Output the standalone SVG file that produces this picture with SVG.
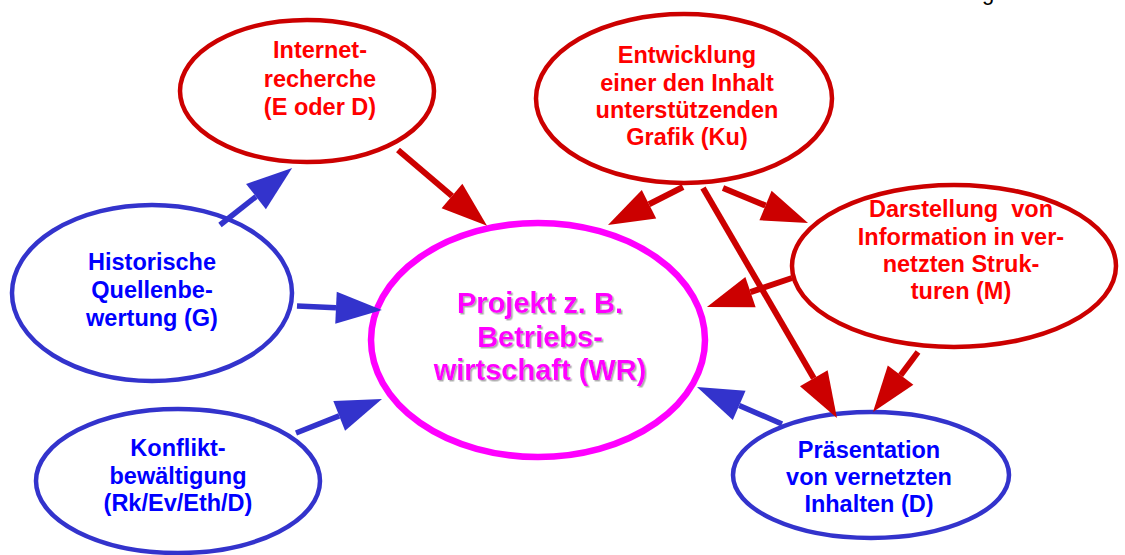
<svg xmlns="http://www.w3.org/2000/svg" width="1125" height="555" viewBox="0 0 1125 555">
<style>
.red{fill:#fff;stroke:#CC0000;stroke-width:4.5}
.blue{fill:#fff;stroke:#3333CC;stroke-width:4.5}
.mag{fill:#fff;stroke:#FF00FF;stroke-width:6.5}
text{font-family:"Liberation Sans",Arial,sans-serif;font-weight:bold;text-anchor:middle}
.tr{fill:#FF0000;font-size:23.5px}
.tb{fill:#0000FF;font-size:23.5px}
.tm{fill:#FF00FF;font-size:29px;filter:url(#sh)}
.cr{stroke:#CC0000;stroke-width:6;fill:none;marker-end:url(#ar)}
.cb{stroke:#3333CC;stroke-width:5.5;fill:none;marker-end:url(#ab)}
</style>
<defs>
<marker id="ar" markerUnits="userSpaceOnUse" markerWidth="50" markerHeight="34" refX="0" refY="16" orient="auto" overflow="visible"><path d="M0,0 L46,16 L0,32 z" fill="#CC0000"/></marker>
<marker id="ab" markerUnits="userSpaceOnUse" markerWidth="50" markerHeight="34" refX="0" refY="16" orient="auto" overflow="visible"><path d="M0,0 L46,16 L0,32 z" fill="#3333CC"/></marker>
<filter id="sh" x="-10%" y="-30%" width="120%" height="160%"><feDropShadow dx="1.5" dy="1.5" stdDeviation="0.6" flood-color="#999999" flood-opacity="0.8"/></filter>
</defs>
<rect width="1125" height="555" fill="#fff"/>
<text x="988" y="0" style="fill:#000;font-size:22px;font-weight:normal">g</text>
<g id="internet">
<ellipse class="red" cx="307" cy="91" rx="127" ry="71"/>
<text class="tr" x="320" y="58">Internet-</text>
<text class="tr" x="320" y="86.5">recherche</text>
<text class="tr" x="320" y="114.5">(E oder D)</text>
</g>
<g id="entwicklung">
<ellipse class="red" cx="684" cy="98.5" rx="148" ry="84.5"/>
<text class="tr" x="687" y="63">Entwicklung</text>
<text class="tr" x="687" y="90.5">einer den Inhalt</text>
<text class="tr" x="687" y="118">unterstützenden</text>
<text class="tr" x="687" y="145">Grafik (Ku)</text>
</g>
<g id="darstellung">
<ellipse class="red" cx="954" cy="266" rx="162" ry="81"/>
<text class="tr" x="961" y="217" xml:space="preserve">Darstellung  von</text>
<text class="tr" x="961" y="245">Information in ver-</text>
<text class="tr" x="961" y="272">netzten Struk-</text>
<text class="tr" x="961" y="299">turen (M)</text>
</g>
<g id="historische">
<ellipse class="blue" cx="152" cy="293" rx="140" ry="88"/>
<text class="tb" x="152" y="270">Historische</text>
<text class="tb" x="152" y="298">Quellenbe-</text>
<text class="tb" x="152" y="326">wertung (G)</text>
</g>
<g id="konflikt">
<ellipse class="blue" cx="178" cy="481" rx="142" ry="72"/>
<text class="tb" x="178" y="456">Konflikt-</text>
<text class="tb" x="178" y="484">bewältigung</text>
<text class="tb" x="178" y="511">(Rk/Ev/Eth/D)</text>
</g>
<g id="projekt">
<ellipse class="mag" cx="538" cy="340" rx="167" ry="117"/>
<text class="tm" x="540" y="313">Projekt z. B.</text>
<text class="tm" x="540" y="347">Betriebs-</text>
<text class="tm" x="540" y="380">wirtschaft (WR)</text>
</g>
<g id="praesentation">
<ellipse class="blue" cx="871" cy="475" rx="138" ry="63"/>
<text class="tb" x="869" y="458">Präsentation</text>
<text class="tb" x="869" y="485">von vernetzten</text>
<text class="tb" x="869" y="512">Inhalten (D)</text>
</g>
<g id="connectors">
<line class="cr" x1="398" y1="150" x2="452" y2="196"/>
<line class="cb" x1="220" y1="225" x2="256" y2="196.6"/>
<line class="cb" x1="297" y1="306" x2="336" y2="307.8"/>
<line class="cb" x1="296" y1="433" x2="339.2" y2="415.9"/>
<line class="cb" x1="782" y1="424" x2="739.2" y2="405.4"/>
<line class="cr" x1="683" y1="187" x2="649" y2="204.2"/>
<line class="cr" x1="703" y1="188" x2="813.8" y2="378.3"/>
<line class="cr" x1="723" y1="188" x2="765.5" y2="205.5"/>
<line class="cr" x1="792" y1="278" x2="750.5" y2="292.1"/>
<line class="cr" x1="918" y1="352" x2="900.6" y2="375.2"/>
</g>
</svg>
